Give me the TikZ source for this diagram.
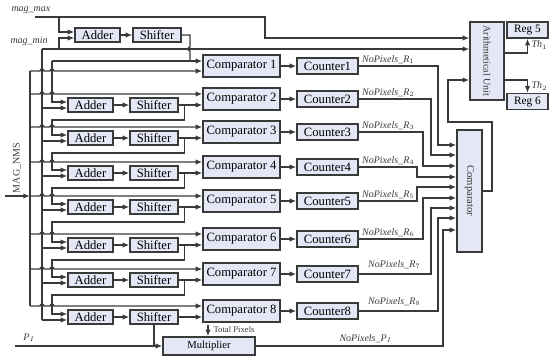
\documentclass[tikz,border=0pt]{standalone}
\usepackage{fontspec}
\setmainfont{Liberation Serif}
\usetikzlibrary{arrows.meta,calc}

\definecolor{boxfill}{RGB}{228,231,245}
\definecolor{wirec}{RGB}{58,58,58}

\tikzset{every picture/.style={line width=0.75pt}}
\tikzset{
  blk/.style={draw=wirec,fill=boxfill,line width=1pt,inner sep=0pt,font=\fontsize{9.5}{10}\selectfont},
  cmpbox/.style={blk,minimum width=57.75pt,minimum height=16.5pt},
  addbox/.style={blk,minimum width=33.75pt,minimum height=10.5pt},
  shfbox/.style={blk,minimum width=36pt,minimum height=10.5pt},
  cntbox/.style={blk,minimum width=45.75pt,minimum height=12pt},
  regbox/.style={blk,minimum width=30.75pt,minimum height=12pt,font=\fontsize{8.5}{9}\selectfont},
  wire/.style={draw=wirec,line width=1pt},
  arr/.style={wire,-{Latex[length=5pt,width=4pt]}},
  lbl/.style={inner sep=0.75pt,text=wirec,font=\fontsize{7.5}{8}\selectfont\itshape},
}

\begin{document}
\begin{tikzpicture}[x=0.75pt,y=0.75pt,yscale=-1,xscale=1]
\useasboundingbox (0,0) rectangle (549,356);

% Blocks, row 1
\node[addbox] (add1) at (97.5,35) {Adder};
\node[shfbox] (shf1) at (157,35) {Shifter};
\node[cmpbox] (cmp1) at (241.5,66) {Comparator 1};
\node[cntbox] (cnt1) at (327.5,66) {Counter1};
% Blocks, rows 2 to 8
\node[addbox] (add2) at (90.5,105) {Adder};
\node[shfbox] (shf2) at (154,105) {Shifter};
\node[cmpbox] (cmp2) at (241.5,99) {Comparator 2};
\node[cntbox] (cnt2) at (327.5,99) {Counter2};
\node[addbox] (add3) at (90.5,138) {Adder};
\node[shfbox] (shf3) at (154,138) {Shifter};
\node[cmpbox] (cmp3) at (241.5,132) {Comparator 3};
\node[cntbox] (cnt3) at (327.5,132) {Counter3};
\node[addbox] (add4) at (90.5,173) {Adder};
\node[shfbox] (shf4) at (154,173) {Shifter};
\node[cmpbox] (cmp4) at (241.5,167) {Comparator 4};
\node[cntbox] (cnt4) at (327.5,167) {Counter4};
\node[addbox] (add5) at (90.5,207) {Adder};
\node[shfbox] (shf5) at (154,207) {Shifter};
\node[cmpbox] (cmp5) at (241.5,201) {Comparator 5};
\node[cntbox] (cnt5) at (327.5,201) {Counter5};
\node[addbox] (add6) at (90.5,245) {Adder};
\node[shfbox] (shf6) at (154,245) {Shifter};
\node[cmpbox] (cmp6) at (241.5,239) {Comparator 6};
\node[cntbox] (cnt6) at (327.5,239) {Counter6};
\node[addbox] (add7) at (90.5,280) {Adder};
\node[shfbox] (shf7) at (154,280) {Shifter};
\node[cmpbox] (cmp7) at (241.5,274) {Comparator 7};
\node[cntbox] (cnt7) at (327.5,274) {Counter7};
\node[addbox] (add8) at (90.5,317) {Adder};
\node[shfbox] (shf8) at (154,317) {Shifter};
\node[cmpbox] (cmp8) at (241.5,311) {Comparator 8};
\node[cntbox] (cnt8) at (327.5,311) {Counter8};
% Right side blocks
\node[blk,minimum width=18.75pt,minimum height=91.5pt] (bigcmp) at (469.5,191) {};
\node[rotate=-90,inner sep=0pt,text=wirec,font=\fontsize{8}{9}\selectfont] (bigcmpt) at (bigcmp) {Comparator};
\node[blk,minimum width=25.5pt,minimum height=58.5pt] (arith) at (487,61) {};
\node[rotate=-90,inner sep=0pt,text=wirec,font=\fontsize{7.5}{9}\selectfont] (aritht) at (arith) {Arithmetical Unit};
\node[regbox] (reg5) at (527.5,30) {Reg 5};
\node[regbox] (reg6) at (527.5,101.5) {Reg 6};
\node[blk,minimum width=69pt,minimum height=13.5pt,font=\fontsize{8}{9}\selectfont] (mult) at (209,346) {Multiplier};

% Inputs
\coordinate (mmax) at (35,17);
\coordinate (mx1) at (59,17);
\coordinate (mmin) at (42,49);
\coordinate (mn1) at (59,49);
\coordinate (nmsin) at (5,196);
\coordinate (pin) at (15,346);
\coordinate (tp) at (208,325);
\node[lbl,anchor=south west] (maxlbl) at (10,15) {mag\_max};
\node[lbl,anchor=south west] (minlbl) at (9,47) {mag\_min};
\node[rotate=90,inner sep=0pt,text=wirec,font=\fontsize{7.5}{9}\selectfont] (nmslbl) at (17,168) {MAG\_NMS};
\node[lbl,anchor=south west] (pilbl) at (22,343) {P$_I$};
\node[inner sep=0.75pt,text=wirec,font=\fontsize{6.5}{7}\selectfont,anchor=west] (tplbl) at (212,330) {Total Pixels};

% Buses
\coordinate (m1) at (30,71);
\coordinate (m2) at (30,94);
\coordinate (m3) at (30,127);
\coordinate (m4) at (30,162);
\coordinate (m5) at (30,196);
\coordinate (m6) at (30,234);
\coordinate (m7) at (30,269);
\coordinate (m8) at (30,306);
\draw[wire] (m1) -- (m8);
\draw[wire] (mmin) -- (42,320);
\draw[arr] (nmsin) -- (m5);

% mag_max, mag_min
\draw[arr] (mmax) -- (265,17) |- ($(arith.west)+(0,-23)$);
\draw[arr] (mmin) -- ($(arith.west)+(0,-12)$);
\draw[arr] (mx1) |- ($(add1.west)+(0,-3)$);
\draw[arr] (mn1) |- ($(add1.west)+(0,3)$);

% Row 1
\coordinate (t1) at (52,61);
\draw[arr] (add1) -- (shf1);
\draw[wire] (shf1.east) -- (190,35) -- (190,47) arc[start angle=270,end angle=90,radius=2] -- (190,61);
\draw[arr] (t1) -- (t1 -| cmp1.west);
\draw[arr] (t1) |- ($(add2.west)+(0,-3)$);
\draw[arr] (m1) -- ++(10,0) arc[start angle=180,end angle=360,radius=2] -- ++(6,0) arc[start angle=180,end angle=360,radius=2] -- (m1 -| cmp1.west);
\draw[arr] (cmp1) -- (cnt1);

% Rows 2 to 8: data lines
\draw[arr] (m2) -- ++(10,0) arc[start angle=180,end angle=360,radius=2] -- ++(6,0) arc[start angle=180,end angle=360,radius=2] -- (m2 -| cmp2.west);
\draw[arr] (m3) -- ++(10,0) arc[start angle=180,end angle=360,radius=2] -- ++(6,0) arc[start angle=180,end angle=360,radius=2] -- (m3 -| cmp3.west);
\draw[arr] (m4) -- ++(10,0) arc[start angle=180,end angle=360,radius=2] -- ++(6,0) arc[start angle=180,end angle=360,radius=2] -- (m4 -| cmp4.west);
\draw[arr] (m5) -- ++(10,0) arc[start angle=180,end angle=360,radius=2] -- ++(6,0) arc[start angle=180,end angle=360,radius=2] -- (m5 -| cmp5.west);
\draw[arr] (m6) -- ++(10,0) arc[start angle=180,end angle=360,radius=2] -- ++(6,0) arc[start angle=180,end angle=360,radius=2] -- (m6 -| cmp6.west);
\draw[arr] (m7) -- ++(10,0) arc[start angle=180,end angle=360,radius=2] -- ++(6,0) arc[start angle=180,end angle=360,radius=2] -- (m7 -| cmp7.west);
\draw[arr] (m8) -- ++(10,0) arc[start angle=180,end angle=360,radius=2] -- ++(6,0) arc[start angle=180,end angle=360,radius=2] -- (m8 -| cmp8.west);

% Rows 2 to 8: mag_min into adders
\draw[arr] (42,108) -- ($(add2.west)+(0,3)$);
\draw[arr] (42,141) -- ($(add3.west)+(0,3)$);
\draw[arr] (42,176) -- ($(add4.west)+(0,3)$);
\draw[arr] (42,210) -- ($(add5.west)+(0,3)$);
\draw[arr] (42,248) -- ($(add6.west)+(0,3)$);
\draw[arr] (42,283) -- ($(add7.west)+(0,3)$);
\draw[arr] (42,320) -- ($(add8.west)+(0,3)$);

% Rows 2 to 8: adder, shifter, comparator, counter
\draw[arr] (add2) -- (shf2);
\draw[arr] (add3) -- (shf3);
\draw[arr] (add4) -- (shf4);
\draw[arr] (add5) -- (shf5);
\draw[arr] (add6) -- (shf6);
\draw[arr] (add7) -- (shf7);
\draw[arr] (add8) -- (shf8);
\draw[arr] (shf2) -- (shf2 -| cmp2.west);
\draw[arr] (shf3) -- (shf3 -| cmp3.west);
\draw[arr] (shf4) -- (shf4 -| cmp4.west);
\draw[arr] (shf5) -- (shf5 -| cmp5.west);
\draw[arr] (shf6) -- (shf6 -| cmp6.west);
\draw[arr] (shf7) -- (shf7 -| cmp7.west);
\draw[arr] (shf8) -- (shf8 -| cmp8.west);
\draw[arr] (cmp2) -- (cnt2);
\draw[arr] (cmp3) -- (cnt3);
\draw[arr] (cmp4) -- (cnt4);
\draw[arr] (cmp5) -- (cnt5);
\draw[arr] (cmp6) -- (cnt6);
\draw[arr] (cmp7) -- (cnt7);
\draw[arr] (cmp8) -- (cnt8);

% Feedback from each shifter to the next adder
\draw[arr] ($(shf2.east)+(6,0)$) |- (52,120) |- ($(add3.west)+(0,-3)$);
\draw[arr] ($(shf3.east)+(6,0)$) |- (52,153) |- ($(add4.west)+(0,-3)$);
\draw[arr] ($(shf4.east)+(6,0)$) |- (52,188) |- ($(add5.west)+(0,-3)$);
\draw[arr] ($(shf5.east)+(6,0)$) |- (52,222) |- ($(add6.west)+(0,-3)$);
\draw[arr] ($(shf6.east)+(6,0)$) |- (52,260) |- ($(add7.west)+(0,-3)$);
\draw[arr] ($(shf7.east)+(6,0)$) |- (52,295) |- ($(add8.west)+(0,-3)$);

% Counters to comparator
\draw[arr] (cnt1.east) -| (438,145) -- (bigcmp.west |- 0,145);
\draw[arr] (cnt2.east) -| (431,155) -- (bigcmp.west |- 0,155);
\draw[arr] (cnt3.east) -| (423,166) -- (bigcmp.west |- 0,166);
\draw[arr] (cnt4.east) -| (417,177) -- (bigcmp.west |- 0,177);
\draw[arr] (cnt5.east) -| (417,187) -- (bigcmp.west |- 0,187);
\draw[arr] (cnt6.east) -| (423,198) -- (bigcmp.west |- 0,198);
\draw[arr] (cnt7.east) -| (431,208) -- (bigcmp.west |- 0,208);
\draw[arr] (cnt8.east) -| (438,218) -- (bigcmp.west |- 0,218);
\draw[arr] (mult.east) -| (443,230) -- (bigcmp.west |- 0,230);
\node[lbl,anchor=south west] (r1) at ($(cnt1.east)+(2,-1)$) {NoPixels\_R$_1$};
\node[lbl,anchor=south west] (r2) at ($(cnt2.east)+(2,-1)$) {NoPixels\_R$_2$};
\node[lbl,anchor=south west] (r3) at ($(cnt3.east)+(2,-1)$) {NoPixels\_R$_3$};
\node[lbl,anchor=south west] (r4) at ($(cnt4.east)+(2,-1)$) {NoPixels\_R$_4$};
\node[lbl,anchor=south west] (r5) at ($(cnt5.east)+(2,-1)$) {NoPixels\_R$_5$};
\node[lbl,anchor=south west] (r6) at ($(cnt6.east)+(2,-1)$) {NoPixels\_R$_6$};
\node[lbl,anchor=south west] (r7) at ($(cnt7.east)+(8,-4)$) {NoPixels\_R$_7$};
\node[lbl,anchor=south west] (r8) at ($(cnt8.east)+(8,-4)$) {NoPixels\_R$_8$};
\node[lbl,anchor=south west] (pl) at (338,344) {NoPixels\_P$_I$};

% Multiplier inputs
\draw[arr] (pin) -- (mult.west);
\draw[wire] (shf8.south) -- (shf8.south |- mult.west);
\draw[arr] (tp) -- (tp |- mult.north);

% Comparator to arithmetical unit, registers
\draw[arr] (bigcmp.east) -- (492,191) |- (448,122) |- ($(arith.west)+(0,19)$);
\draw[arr] ($(arith.east)+(0,-8)$) -| (reg5.south);
\draw[arr] ($(arith.east)+(0,19)$) -| (reg6.north);
\node[lbl,anchor=west] (th1) at (530,45) {Th$_1$};
\node[lbl,anchor=west] (th2) at (530,86) {Th$_2$};

\end{tikzpicture}
\end{document}
